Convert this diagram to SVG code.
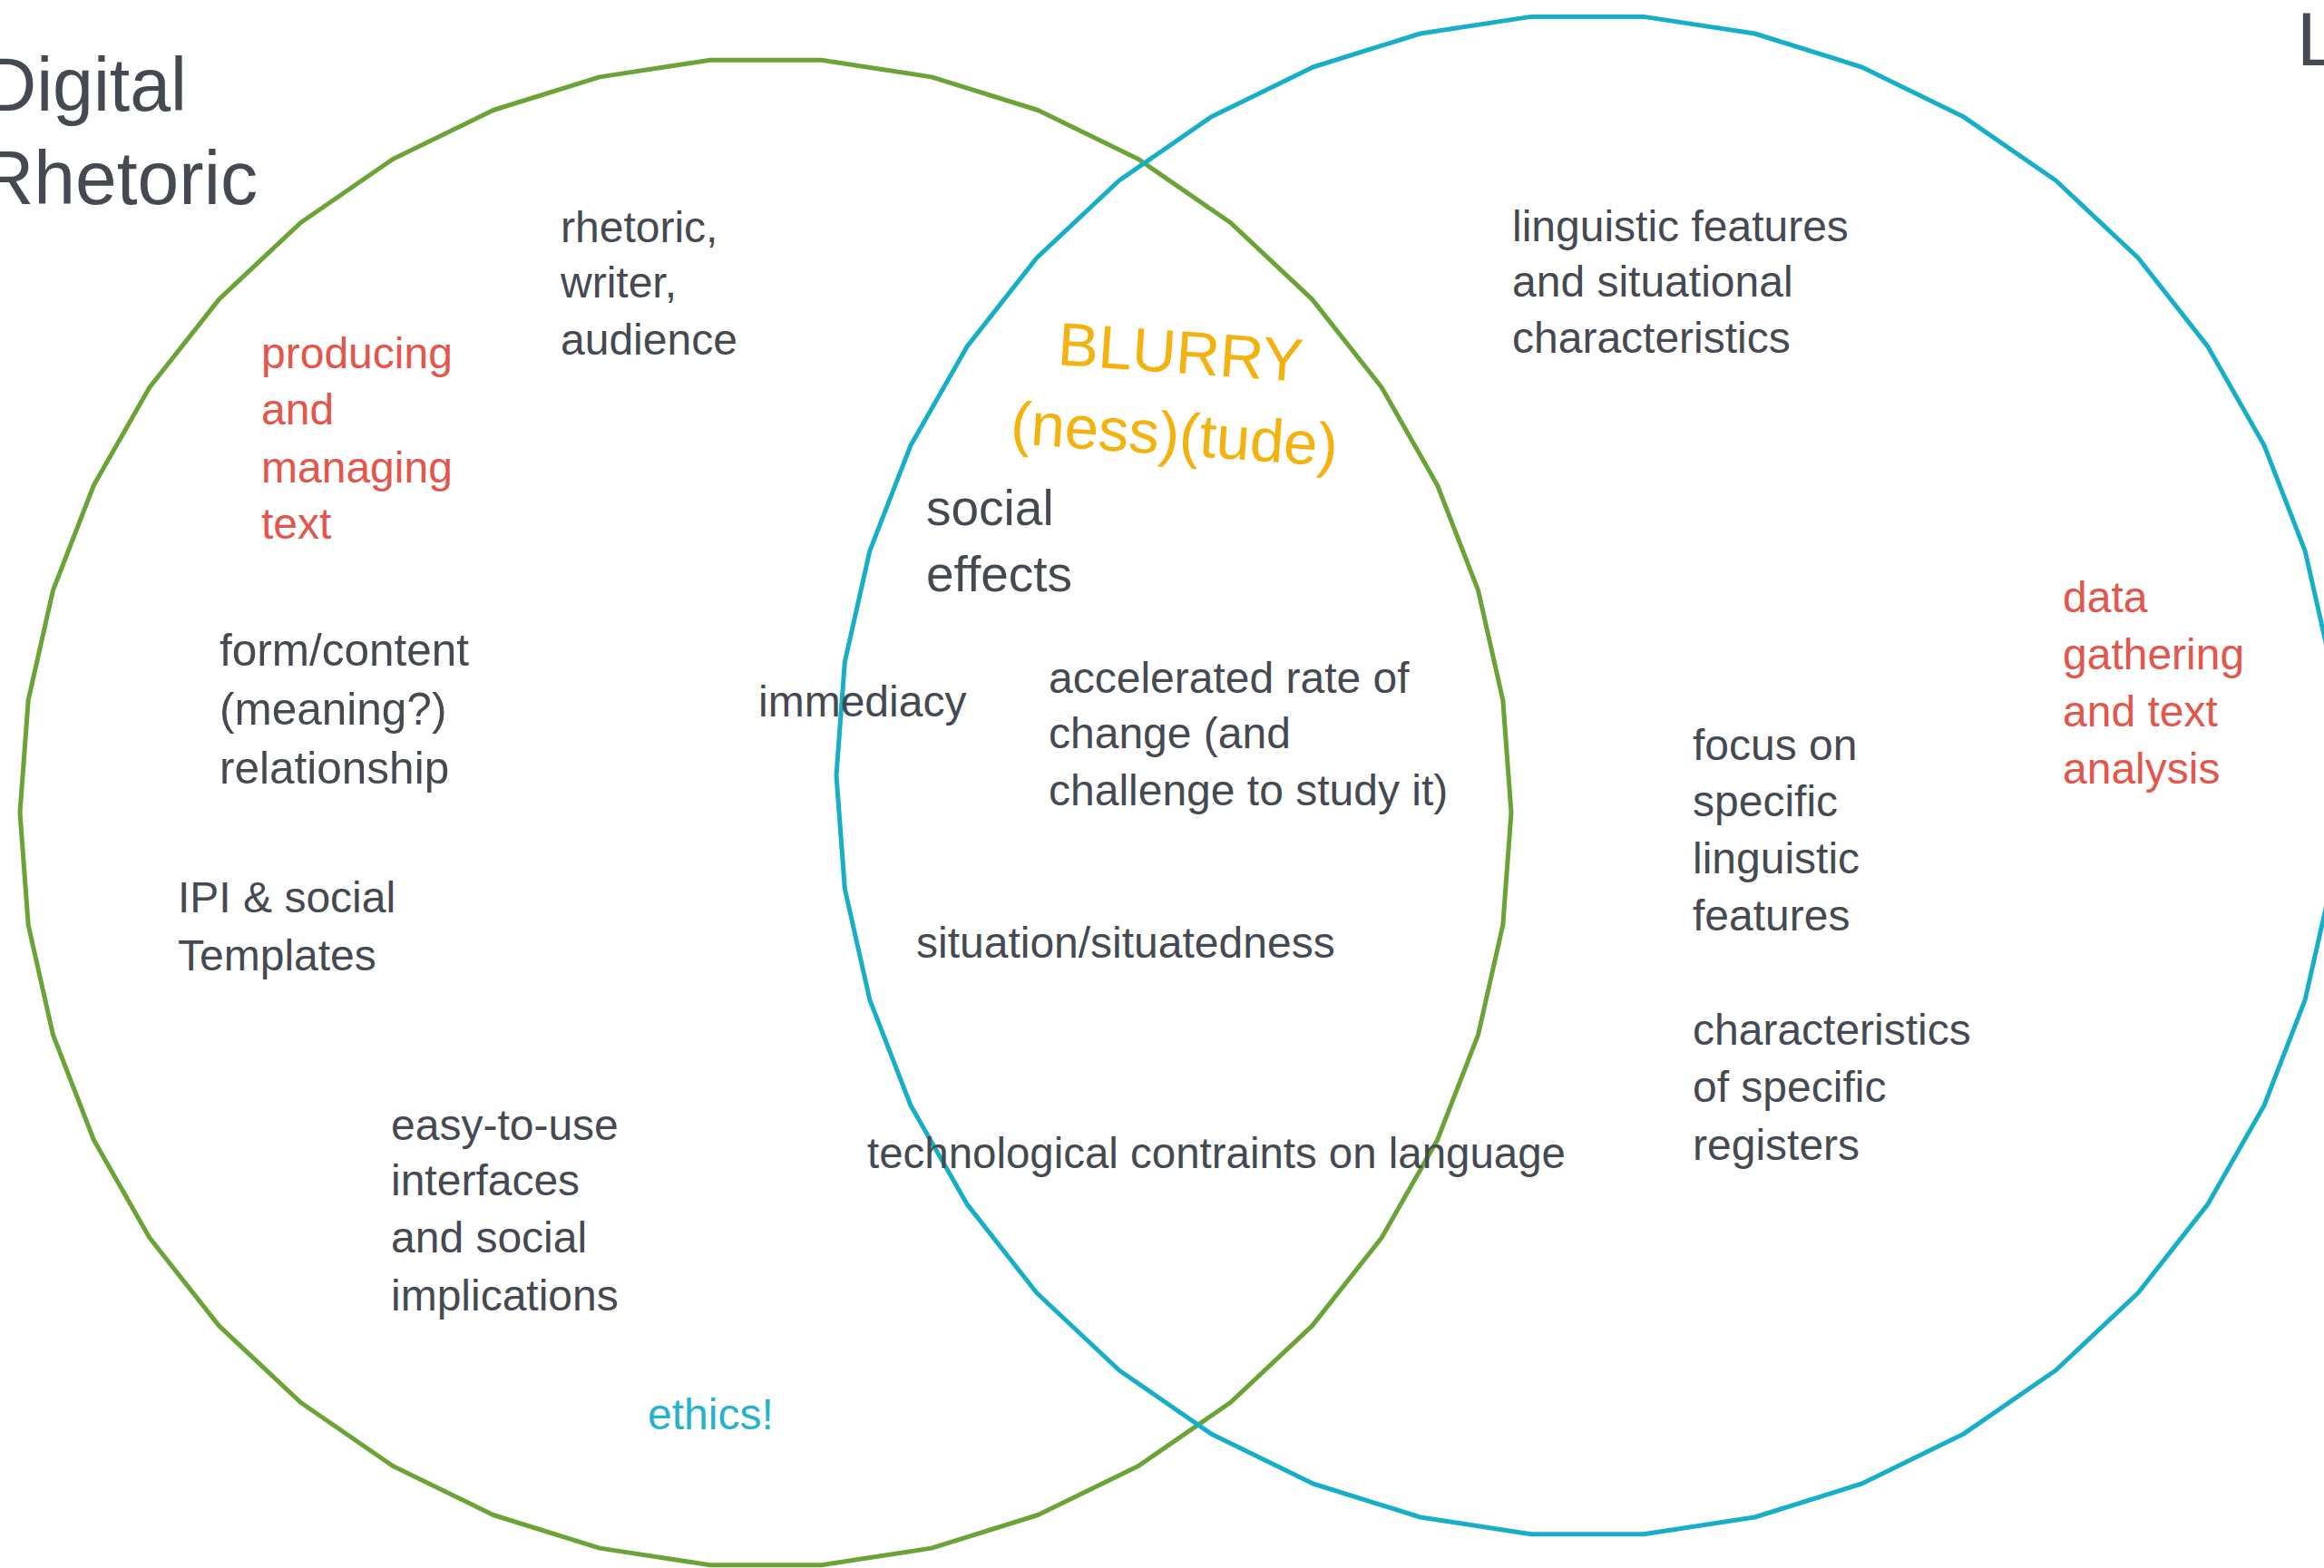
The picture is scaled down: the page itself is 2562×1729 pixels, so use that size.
<svg xmlns="http://www.w3.org/2000/svg" width="2562" height="1729" viewBox="0 0 2562 1729">
<style>
text{font-family:"Liberation Sans",Arial,Helvetica,sans-serif;fill:#454a52}
.b{font-size:48px}
.t{font-size:84px}
.red{fill:#e2564b}
.orange{fill:#f4b20f;font-size:67px}
.teal{fill:#27b2cb}
.ring{fill:none;stroke-width:5;stroke-linejoin:round}
</style>
<rect width="2562" height="1729" fill="#ffffff"/>
<g id="circles">
<polygon id="digital-rhetoric-circle" class="ring" stroke="#6aa336" points="905.4,66.3 1026.9,84.9 1144.3,121.5 1255.0,175.5 1356.5,245.5 1446.6,330.1 1523.2,427.3 1584.6,535.0 1629.5,650.8 1656.8,772.0 1666.0,896.0 1656.8,1020.0 1629.5,1141.2 1584.6,1257.0 1523.2,1364.7 1446.6,1461.9 1356.5,1546.5 1255.0,1616.5 1144.3,1670.5 1026.9,1707.1 905.4,1725.7 782.6,1725.7 661.1,1707.1 543.7,1670.5 433.0,1616.5 331.5,1546.5 241.4,1461.9 164.8,1364.7 103.4,1257.0 58.5,1141.2 31.2,1020.0 22.0,896.0 31.2,772.0 58.5,650.8 103.4,535.0 164.8,427.3 241.4,330.1 331.5,245.5 433.0,175.5 543.7,121.5 661.1,84.9 782.6,66.3"/>
<polygon id="linguistics-circle" class="ring" stroke="#17afc7" points="1811.9,18.4 1934.3,37.0 2052.5,74.0 2164.0,128.4 2266.3,199.0 2357.0,284.3 2434.1,382.4 2496.0,491.0 2541.2,607.7 2568.8,730.0 2578.0,855.0 2568.8,980.0 2541.2,1102.3 2496.0,1219.0 2434.1,1327.6 2357.0,1425.7 2266.3,1511.0 2164.0,1581.6 2052.5,1636.0 1934.3,1673.0 1811.9,1691.7 1688.1,1691.7 1565.8,1673.0 1447.5,1636.0 1336.0,1581.6 1233.8,1511.0 1143.0,1425.7 1065.9,1327.6 1004.0,1219.0 958.8,1102.3 931.3,980.0 922.0,855.0 931.3,730.0 958.8,607.7 1004.0,491.0 1065.9,382.4 1143.0,284.3 1233.8,199.0 1336.0,128.4 1447.5,74.0 1565.8,37.0 1688.1,18.4"/>
</g>
<g id="connectors"></g>
<g id="title-digital-rhetoric">
<text class="t" x="-18" y="122" textLength="224" lengthAdjust="spacingAndGlyphs">Digital</text>
<text class="t" x="-22" y="225" textLength="306" lengthAdjust="spacingAndGlyphs">Rhetoric</text>
</g>
<g id="title-l">
<text class="t" x="2532" y="72">L</text>
</g>
<g id="rhetoric-writer-audience" class="b">
<text x="618" y="267">rhetoric,</text>
<text x="618" y="328">writer,</text>
<text x="618" y="391">audience</text>
</g>
<g id="producing-text" class="b">
<text class="red" x="288" y="406">producing</text>
<text class="red" x="288" y="468">and</text>
<text class="red" x="288" y="532">managing</text>
<text class="red" x="288" y="594">text</text>
</g>
<g id="form-content" style="font-size:49.5px">
<text x="242" y="734">form/content</text>
<text x="242" y="799">(meaning?)</text>
<text x="242" y="864">relationship</text>
</g>
<g id="ipi-templates" class="b">
<text x="196" y="1006">IPI &amp; social</text>
<text x="196" y="1070">Templates</text>
</g>
<g id="easy-interfaces" class="b">
<text x="431" y="1257">easy-to-use</text>
<text x="431" y="1318">interfaces</text>
<text x="431" y="1381">and social</text>
<text x="431" y="1445">implications</text>
</g>
<g id="ethics" class="b">
<text class="teal" x="714" y="1576">ethics!</text>
</g>
<g id="blurry">
<text class="orange" x="1165" y="402" transform="rotate(4 1165 402)">BLURRY</text>
<text class="orange" x="1113" y="489" transform="rotate(4 1113 489)">(ness)(tude)</text>
</g>
<g id="social-effects" style="font-size:55px">
<text x="1021" y="579">social</text>
<text x="1021" y="652">effects</text>
</g>
<g id="immediacy" class="b">
<text x="836" y="790">immediacy</text>
</g>
<g id="accelerated-change" class="b">
<text x="1156" y="764">accelerated rate of</text>
<text x="1156" y="825">change (and</text>
<text x="1156" y="888">challenge to study it)</text>
</g>
<g id="situation" class="b">
<text x="1010" y="1056">situation/situatedness</text>
</g>
<g id="technological-constraints" class="b">
<text x="956" y="1288" textLength="770" lengthAdjust="spacingAndGlyphs">technological contraints on language</text>
</g>
<g id="linguistic-features" class="b">
<text x="1667" y="266">linguistic features</text>
<text x="1667" y="327">and situational</text>
<text x="1667" y="389">characteristics</text>
</g>
<g id="data-gathering" class="b">
<text class="red" x="2274" y="675">data</text>
<text class="red" x="2274" y="738">gathering</text>
<text class="red" x="2274" y="801">and text</text>
<text class="red" x="2274" y="864">analysis</text>
</g>
<g id="focus-specific" class="b">
<text x="1866" y="838">focus on</text>
<text x="1866" y="900">specific</text>
<text x="1866" y="963">linguistic</text>
<text x="1866" y="1026">features</text>
</g>
<g id="registers" class="b">
<text x="1866" y="1152">characteristics</text>
<text x="1866" y="1215">of specific</text>
<text x="1866" y="1279">registers</text>
</g>
</svg>
